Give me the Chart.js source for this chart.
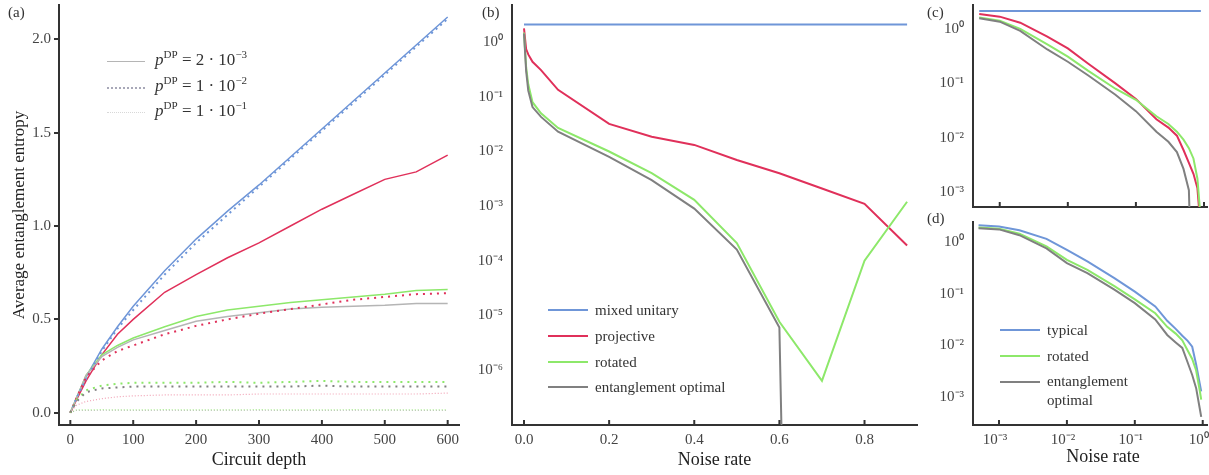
<!DOCTYPE html>
<html>
<head>
<meta charset="utf-8">
<script src="https://cdn.jsdelivr.net/npm/chart.js@4/dist/chart.umd.min.js"></script>
<style>
  body { margin: 0; background: #fff; width: 1209px; height: 475px; position: relative; overflow: hidden;
         font-family: "Liberation Serif", "DejaVu Serif", serif; color: #333; }
  canvas { position: absolute; }
  .lab { position: absolute; font-size: 15px; color: #333; }
  .row { position: absolute; height: 20px; }
  .row .ln { position: absolute; left: 0; top: 9px; width: 40px; }
  .row .tx { position: absolute; white-space: nowrap; line-height: 20px; top: 0; }
  sup { font-size: 0.65em; line-height: 0; }
</style>
</head>
<body>
<canvas id="ca" width="465" height="475" style="left:0;top:0"></canvas>
<canvas id="cb" width="458" height="475" style="left:462px;top:0"></canvas>
<canvas id="cc" width="284" height="215" style="left:925px;top:0"></canvas>
<canvas id="cd" width="284" height="260" style="left:925px;top:215px"></canvas>

<div class="lab" style="left:8px;top:4px">(a)</div>
<div class="lab" style="left:482px;top:4px">(b)</div>
<div class="lab" style="left:927px;top:4px">(c)</div>
<div class="lab" style="left:927px;top:210px">(d)</div>
<div class="lab" style="left:1058px;top:446px;font-size:18px;color:#222;width:90px;text-align:center">Noise rate</div>

<!-- legend (a) -->
<div class="row" style="left:107px;top:52px;font-size:17px">
  <div class="ln" style="width:38px;border-top:1.5px solid #b5b5b5"></div>
  <div class="tx" style="left:48px;top:-2px"><i>p</i><sup>DP</sup> = 2 · 10<sup>−3</sup></div>
</div>
<div class="row" style="left:107px;top:78px;font-size:17px">
  <div class="ln" style="width:38px;border-top:2px dotted #a8a8b8"></div>
  <div class="tx" style="left:48px;top:-2px"><i>p</i><sup>DP</sup> = 1 · 10<sup>−2</sup></div>
</div>
<div class="row" style="left:107px;top:103px;font-size:17px">
  <div class="ln" style="width:38px;border-top:1px dotted #d8d8d8"></div>
  <div class="tx" style="left:48px;top:-2px"><i>p</i><sup>DP</sup> = 1 · 10<sup>−1</sup></div>
</div>

<!-- legend (b) -->
<div class="row" style="left:548px;top:300px;font-size:15px">
  <div class="ln" style="border-top:2px solid #6f96d8"></div><div class="tx" style="left:47px">mixed unitary</div>
</div>
<div class="row" style="left:548px;top:326px;font-size:15px">
  <div class="ln" style="border-top:2px solid #e0305a"></div><div class="tx" style="left:47px">projective</div>
</div>
<div class="row" style="left:548px;top:352px;font-size:15px">
  <div class="ln" style="border-top:2px solid #8de86a"></div><div class="tx" style="left:47px">rotated</div>
</div>
<div class="row" style="left:548px;top:377px;font-size:15px">
  <div class="ln" style="border-top:2px solid #808080"></div><div class="tx" style="left:47px">entanglement optimal</div>
</div>

<!-- legend (d) -->
<div class="row" style="left:1000px;top:320px;font-size:15px">
  <div class="ln" style="border-top:2px solid #6f96d8"></div><div class="tx" style="left:47px">typical</div>
</div>
<div class="row" style="left:1000px;top:346px;font-size:15px">
  <div class="ln" style="border-top:2px solid #8de86a"></div><div class="tx" style="left:47px">rotated</div>
</div>
<div class="row" style="left:1000px;top:372px;font-size:15px">
  <div class="ln" style="border-top:2px solid #808080"></div><div class="tx" style="left:47px;line-height:19px">entanglement<br>optimal</div>
</div>

<script>
// colours
const BLUE = '#6f96d8', RED = '#e0305a', GREEN = '#8de86a', GRAY = '#808080';

// ---- panel (a): entropy vs circuit depth ----
const depthA      = [0, 10, 25, 50, 75, 100, 150, 200, 250, 300, 350, 400, 450, 500, 550, 600];
const blueSolidA  = [0, 0.08, 0.19, 0.34, 0.46, 0.57, 0.76, 0.93, 1.08, 1.22, 1.37, 1.52, 1.67, 1.82, 1.97, 2.12];
const blueDotA    = [0, 0.08, 0.18, 0.33, 0.45, 0.55, 0.74, 0.91, 1.06, 1.21, 1.36, 1.51, 1.66, 1.81, 1.96, 2.11];
const redSolidA   = [0, 0.07, 0.17, 0.31, 0.42, 0.50, 0.645, 0.74, 0.83, 0.91, 1.0, 1.09, 1.17, 1.25, 1.29, 1.38];
const redDotA     = [0, 0.08, 0.19, 0.28, 0.33, 0.36, 0.42, 0.465, 0.50, 0.53, 0.555, 0.58, 0.605, 0.62, 0.635, 0.64];
const redFaintA   = [0, 0.04, 0.06, 0.075, 0.085, 0.09, 0.095, 0.095, 0.095, 0.1, 0.1, 0.1, 0.1, 0.1, 0.1, 0.105];
const greenSolidA = [0, 0.08, 0.2, 0.31, 0.36, 0.40, 0.46, 0.515, 0.55, 0.57, 0.59, 0.605, 0.62, 0.635, 0.655, 0.66];
const greenDotA   = [0, 0.07, 0.12, 0.145, 0.155, 0.16, 0.16, 0.16, 0.165, 0.16, 0.165, 0.17, 0.165, 0.165, 0.165, 0.165];
const greenFaintA = [0, 0.015, 0.015, 0.016, 0.015, 0.015, 0.016, 0.015, 0.015, 0.016, 0.015, 0.015, 0.016, 0.015, 0.015, 0.015];
const graySolidA  = [0, 0.08, 0.2, 0.30, 0.35, 0.39, 0.44, 0.49, 0.515, 0.535, 0.555, 0.565, 0.57, 0.575, 0.585, 0.585];
const grayDotA    = [0, 0.06, 0.11, 0.13, 0.135, 0.14, 0.14, 0.14, 0.14, 0.14, 0.14, 0.145, 0.14, 0.14, 0.14, 0.14];
const grayFaintA  = [0, 0.012, 0.012, 0.012, 0.013, 0.012, 0.012, 0.012, 0.013, 0.012, 0.012, 0.012, 0.012, 0.013, 0.012, 0.012];
const xTicksA = [0, 100, 200, 300, 400, 500, 600];
const yTicksA = [0, 0.5, 1.0, 1.5, 2.0];

// ---- panel (b): entropy vs noise rate (linear x) ----
const noiseB = [0, 0.005, 0.01, 0.02, 0.04, 0.08, 0.2, 0.3, 0.4, 0.5, 0.6, 0.61, 0.7, 0.8, 0.9];
const blueB  = [2.12, 2.12, 2.12, 2.12, 2.12, 2.12, 2.12, 2.12, 2.12, 2.12, 2.12, null, 2.12, 2.12, 2.12];
const redB   = [1.8, 0.75, 0.6, 0.44, 0.31, 0.135, 0.032, 0.0187, 0.0132, 0.007, 0.004, null, 0.0021, 0.0011, 0.00019];
const greenB = [1.5, 0.35, 0.17, 0.08, 0.05, 0.027, 0.01, 0.004, 0.0013, 0.00021, 0.0000076, null, 0.00000063, 0.0001, 0.0012];
const grayB  = [1.45, 0.3, 0.13, 0.065, 0.043, 0.023, 0.008, 0.003, 0.0009, 0.00016, 0.000006, 1e-9, null, null, null];
const xTicksB = [0, 0.2, 0.4, 0.6, 0.8];

// ---- panel (c): log-log ----
const noiseC = [5e-4, 1e-3, 2e-3, 5e-3, 0.01, 0.02, 0.05, 0.1, 0.2, 0.3, 0.4, 0.5, 0.6, 0.7, 0.8, 0.9];
const blueC  = [2.14, 2.14, 2.14, 2.14, 2.14, 2.14, 2.14, 2.14, 2.14, 2.14, 2.14, 2.14, 2.14, 2.14, 2.14, 2.14];
const redC   = [1.88, 1.68, 1.3, 0.72, 0.44, 0.23, 0.1, 0.052, 0.022, 0.0155, 0.011, 0.006, 0.0035, 0.0022, 0.0012, 0.00019];
const greenC = [1.63, 1.42, 1.0, 0.52, 0.31, 0.17, 0.08, 0.05, 0.025, 0.018, 0.013, 0.0093, 0.0065, 0.0042, 0.0018, 0.0003];
const grayC  = [1.57, 1.36, 0.92, 0.42, 0.25, 0.14, 0.062, 0.031, 0.013, 0.0085, 0.0055, 0.0027, 0.0011, 0.000001, null, null];

// ---- panel (d): log-log ----
const noiseD = [5e-4, 1e-3, 2e-3, 5e-3, 0.01, 0.02, 0.05, 0.1, 0.2, 0.3, 0.4, 0.5, 0.6, 0.7, 0.8, 0.9, 0.95];
const blueD  = [2.1, 1.98, 1.68, 1.15, 0.7, 0.42, 0.2, 0.11, 0.057, 0.03, 0.021, 0.0155, 0.0123, 0.0095, 0.0043, 0.0019, 0.0013];
const greenD = [1.9, 1.8, 1.45, 0.82, 0.45, 0.29, 0.14, 0.078, 0.042, 0.023, 0.017, 0.0126, 0.008, 0.0055, 0.0033, 0.0014, 0.0009];
const grayD  = [1.85, 1.75, 1.35, 0.75, 0.39, 0.25, 0.12, 0.066, 0.032, 0.016, 0.0115, 0.009, 0.0047, 0.0027, 0.0015, 0.00063, 0.00042];

// log tick labels
const logVals   = [1, 0.1, 0.01, 0.001, 1e-4, 1e-5, 1e-6];
const logLabels = ['10⁰', '10⁻¹', '10⁻²', '10⁻³', '10⁻⁴', '10⁻⁵', '10⁻⁶'];
const logXVals   = [1e-3, 1e-2, 1e-1, 1];
const logXLabels = ['10⁻³', '10⁻²', '10⁻¹', '10⁰'];

function pts(xs, ys) {
  const out = [];
  xs.forEach((x, i) => { if (ys[i] !== null) out.push({ x: x, y: ys[i] }); });
  return out;
}

function line(xs, ys, color, width, dash) {
  return { data: pts(xs, ys), borderColor: color, borderWidth: width, borderDash: dash || [],
           pointRadius: 0, fill: false, tension: 0 };
}

function logLabel(v, vals, labels) {
  const i = vals.findIndex(t => Math.abs(Math.log10(t) - Math.log10(v)) < 1e-6);
  return i >= 0 ? labels[i] : '';
}

// ticks pointing into the plot on the x axis
const innerTicks = {
  id: 'innerTicks',
  afterDraw(chart) {
    const { ctx, chartArea } = chart;
    const sx = chart.scales.x;
    ctx.save();
    ctx.strokeStyle = '#333';
    ctx.lineWidth = 2;
    sx.ticks.forEach(t => {
      const px = sx.getPixelForValue(t.value);
      ctx.beginPath();
      ctx.moveTo(px, chartArea.bottom);
      ctx.lineTo(px, chartArea.bottom - 5);
      ctx.stroke();
    });
    ctx.restore();
  }
};

const tickFont = { family: 'Liberation Serif', size: 15 };
const titleFont = { family: 'Liberation Serif', size: 18 };
const border = { display: true, color: '#333', width: 2 };

// fixed axis sizes, no extra room for overhanging labels
function fixX(h) {
  return s => { s.height = h; s.paddingLeft = 0; s.paddingRight = 0; s.paddingTop = 0; s.paddingBottom = 0; };
}
function fixY(w) {
  return s => { s.width = w; s.paddingTop = 0; s.paddingBottom = 0; s.paddingLeft = 0; s.paddingRight = 0; };
}

function baseOptions(pad, yWidth, xHeight) {
  return {
    responsive: false, animation: false, devicePixelRatio: 1,
    layout: { padding: pad, autoPadding: false },
    plugins: { legend: { display: false }, tooltip: { enabled: false } },
    scales: {
      x: { afterFit: fixX(xHeight), border: border,
           grid: { display: false, drawTicks: false },
           ticks: { font: tickFont, color: '#444', padding: 6, autoSkip: false, maxRotation: 0 } },
      y: { afterFit: fixY(yWidth), border: border,
           grid: { display: false, drawTicks: false },
           ticks: { font: tickFont, color: '#444', padding: 9, autoSkip: false } }
    }
  };
}

// (a)
const optA = baseOptions({ left: 0, top: 5, right: 6, bottom: 0 }, 59, 50);
Object.assign(optA.scales.x, { type: 'linear', min: -18, max: 618,
  afterBuildTicks: s => { s.ticks = xTicksA.map(v => ({ value: v })); },
  title: { display: true, text: 'Circuit depth', font: titleFont, color: '#222', padding: { top: 0, bottom: 4 } } });
optA.scales.x.ticks.callback = v => String(v);
Object.assign(optA.scales.y, { type: 'linear', min: -0.066, max: 2.184,
  afterBuildTicks: s => { s.ticks = yTicksA.map(v => ({ value: v })); },
  grid: { display: true, drawOnChartArea: false, drawTicks: true, tickLength: 5, color: '#333', lineWidth: 2 },
  title: { display: true, text: 'Average entanglement entropy', font: { family: 'Liberation Serif', size: 17 }, color: '#222', padding: { top: 9, bottom: 0 } } });
optA.scales.y.ticks.padding = 3;
optA.scales.y.ticks.callback = v => v.toFixed(1);

new Chart(document.getElementById('ca'), {
  type: 'line',
  data: { datasets: [
    line(depthA, grayFaintA, 'rgba(150,150,150,0.5)', 1, [1, 2]),
    line(depthA, greenFaintA, 'rgba(141,232,106,0.8)', 1.2, [1, 2]),
    line(depthA, redFaintA, 'rgba(224,48,90,0.45)', 1.2, [1, 2]),
    line(depthA, grayDotA, GRAY, 2, [2, 5]),
    line(depthA, greenDotA, GREEN, 2, [2, 5]),
    line(depthA, redDotA, RED, 2, [2, 5]),
    line(depthA, blueDotA, BLUE, 2, [2, 4]),
    line(depthA, graySolidA, '#b5b5b5', 1.5),
    line(depthA, greenSolidA, GREEN, 1.5),
    line(depthA, redSolidA, RED, 1.5),
    line(depthA, blueSolidA, BLUE, 1.5)
  ] },
  options: optA,
  plugins: [innerTicks]
});

// (b)
const optB = baseOptions({ left: 0, top: 5, right: 3, bottom: 0 }, 50, 50);
Object.assign(optB.scales.x, { type: 'linear', min: -0.0282, max: 0.9233,
  afterBuildTicks: s => { s.ticks = xTicksB.map(v => ({ value: v })); },
  title: { display: true, text: 'Noise rate', font: titleFont, color: '#222', padding: { top: 0, bottom: 4 } } });
optB.scales.x.ticks.callback = v => v.toFixed(1);
Object.assign(optB.scales.y, { type: 'logarithmic', min: 9.8e-8, max: 4.82,
  afterBuildTicks: s => { s.ticks = logVals.map(v => ({ value: v })); } });
optB.scales.y.ticks.callback = v => logLabel(v, logVals, logLabels);

new Chart(document.getElementById('cb'), {
  type: 'line',
  data: { datasets: [
    line(noiseB, grayB, GRAY, 2),
    line(noiseB, greenB, GREEN, 2),
    line(noiseB, redB, RED, 2),
    line(noiseB, blueB, BLUE, 2)
  ] },
  options: optB,
  plugins: [innerTicks]
});

// (c)
const optC = baseOptions({ left: 0, top: 5, right: 2, bottom: 0 }, 48, 8);
Object.assign(optC.scales.x, { type: 'logarithmic', min: 4.05e-4, max: 1.107,
  afterBuildTicks: s => { s.ticks = logXVals.map(v => ({ value: v })); } });
optC.scales.x.ticks.display = false;
Object.assign(optC.scales.y, { type: 'logarithmic', min: 5.4e-4, max: 2.75,
  afterBuildTicks: s => { s.ticks = logVals.slice(0, 4).map(v => ({ value: v })); } });
optC.scales.y.ticks.callback = v => logLabel(v, logVals, logLabels);

new Chart(document.getElementById('cc'), {
  type: 'line',
  data: { datasets: [
    line(noiseC, grayC, GRAY, 2),
    line(noiseC, greenC, GREEN, 2),
    line(noiseC, redC, RED, 2),
    line(noiseC, blueC, BLUE, 2)
  ] },
  options: optC,
  plugins: [innerTicks]
});

// (d) – axis title is placed in the page so it can sit where the original has it
const optD = baseOptions({ left: 0, top: 7, right: 2, bottom: 0 }, 48, 50);
Object.assign(optD.scales.x, { type: 'logarithmic', min: 4.14e-4, max: 1.156,
  afterBuildTicks: s => { s.ticks = logXVals.map(v => ({ value: v })); } });
optD.scales.x.ticks.callback = v => logLabel(v, logXVals, logXLabels);
optD.scales.x.ticks.labelOffset = -4;
Object.assign(optD.scales.y, { type: 'logarithmic', min: 2.92e-4, max: 2.43,
  afterBuildTicks: s => { s.ticks = logVals.slice(0, 4).map(v => ({ value: v })); } });
optD.scales.y.ticks.callback = v => logLabel(v, logVals, logLabels);

new Chart(document.getElementById('cd'), {
  type: 'line',
  data: { datasets: [
    line(noiseD, grayD, GRAY, 2),
    line(noiseD, greenD, GREEN, 2),
    line(noiseD, blueD, BLUE, 2)
  ] },
  options: optD,
  plugins: [innerTicks]
});
</script>
</body>
</html>
